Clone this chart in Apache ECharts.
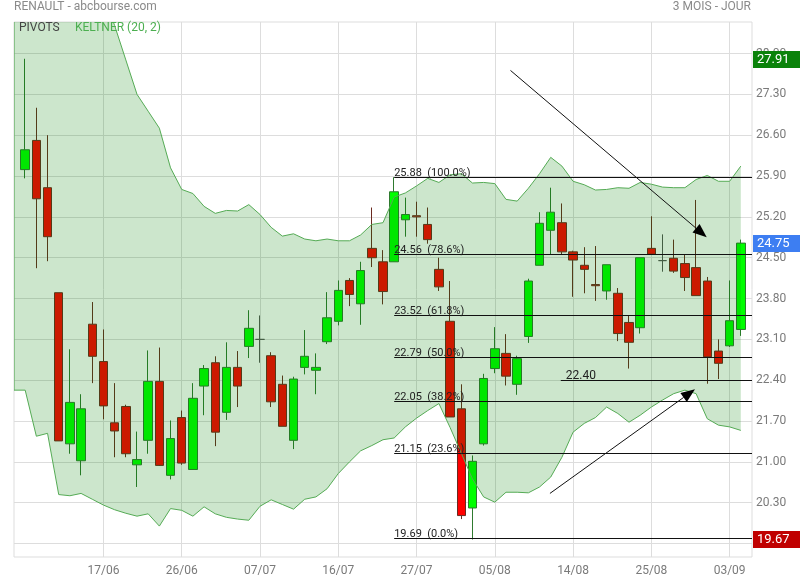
<!DOCTYPE html>
<html>
<head>
<meta charset="utf-8">
<script src="https://cdn.jsdelivr.net/npm/echarts@6/dist/echarts.min.js"></script>
<style>
html,body{margin:0;padding:0;background:#ffffff;}
#chart{width:800px;height:580px;}
</style>
</head>
<body>
<div id="chart"></div>
<script>
// ---- data ----
const dates = ['08/06','09/06','10/06','11/06','12/06','15/06','16/06','17/06','18/06','19/06',
  '22/06','23/06','24/06','25/06','26/06','29/06','30/06','01/07','02/07','03/07',
  '06/07','07/07','08/07','09/07','10/07','13/07','14/07','15/07','16/07','17/07',
  '20/07','21/07','22/07','23/07','24/07','27/07','28/07','29/07','30/07','31/07',
  '03/08','04/08','05/08','06/08','07/08','10/08','11/08','12/08','13/08','14/08',
  '17/08','18/08','19/08','20/08','21/08','24/08','25/08','26/08','27/08','28/08',
  '31/08','01/09','02/09','03/09','04/09'];
const opens = [26.01,26.51,25.70,23.90,21.31,21.02,23.36,22.72,21.67,21.95,
  20.95,21.37,22.38,20.77,21.76,20.87,22.30,22.70,21.85,22.62,
  22.98,23.10,22.82,22.33,21.37,22.62,22.57,23.06,23.41,24.11,
  23.71,24.66,24.43,24.43,25.15,25.22,25.07,24.30,23.41,21.91,
  20.21,21.31,22.60,22.86,22.33,23.15,24.37,24.97,25.10,24.60,
  24.37,24.04,23.93,23.89,23.39,23.30,24.66,24.45,24.49,24.40,
  24.33,24.10,22.90,22.99,23.27];
const closes = [26.35,25.51,24.86,21.36,22.02,21.91,22.81,21.96,21.53,21.14,
  21.04,22.38,20.94,21.40,20.98,22.09,22.60,21.51,22.62,22.30,
  23.29,23.10,22.03,21.61,22.42,22.81,22.62,23.47,23.94,23.87,
  24.28,24.50,23.92,25.63,25.24,25.20,24.81,24.00,21.77,20.08,
  21.01,22.43,22.94,22.47,22.77,24.10,25.09,25.28,24.60,24.46,
  24.30,24.02,24.38,23.20,23.05,24.50,24.56,24.45,24.27,24.16,
  23.85,22.80,22.69,23.42,24.75];
const lows = [25.86,24.32,24.44,21.36,21.14,20.77,22.35,21.73,21.08,21.08,
  20.57,21.14,20.93,20.70,20.95,20.87,21.80,21.27,21.72,21.94,
  22.78,22.70,21.94,21.61,21.22,22.50,22.16,23.02,23.34,23.67,
  23.35,24.34,23.70,24.43,24.86,24.86,24.74,23.93,21.77,20.02,
  19.67,21.28,22.52,22.31,22.15,23.04,24.37,24.56,24.56,23.83,
  23.89,23.76,23.78,23.07,22.60,23.20,24.56,24.26,24.24,23.93,
  23.85,22.34,22.42,22.97,23.16];
const highs = [27.91,27.07,26.60,23.90,22.93,22.16,23.74,23.27,22.35,21.98,
  21.52,22.91,22.96,21.71,21.88,22.35,22.66,22.81,23.05,22.90,
  23.60,23.51,22.88,22.48,22.46,23.26,22.86,23.91,24.11,24.15,
  24.43,25.36,24.63,25.88,25.53,25.46,25.36,24.50,24.10,22.33,
  21.11,22.51,23.31,23.19,22.82,24.14,25.28,25.70,25.43,24.62,
  24.68,24.70,24.38,23.98,23.51,24.50,25.21,24.90,24.81,24.56,
  25.49,24.17,23.10,24.11,24.81];
const keltnerUpper = [30.5,30.4,30.3,30.1,29.9,29.6,29.3,29.0,28.48,27.89,
  27.30,27.01,26.72,26.04,25.67,25.60,25.38,25.26,25.31,25.30,
  25.41,25.24,25.02,24.87,24.91,24.82,24.79,24.82,24.79,24.79,
  24.89,25.07,25.10,25.54,25.61,25.73,25.86,25.79,25.92,25.94,
  25.78,25.79,25.77,25.50,25.47,25.69,25.94,26.22,26.07,25.81,
  25.75,25.66,25.67,25.70,25.69,25.79,25.76,25.71,25.70,25.70,
  25.84,25.91,25.81,25.81,26.07];
const keltnerLower = [22.23,21.44,21.49,20.44,20.42,20.46,20.36,20.26,20.18,20.12,
  20.07,20.11,19.90,20.20,20.17,20.07,20.23,20.11,20.05,20.02,
  20.00,20.24,20.35,20.27,20.19,20.36,20.40,20.54,20.80,21.00,
  21.19,21.28,21.38,21.41,21.60,21.75,21.88,22.00,21.59,21.15,
  20.71,20.40,20.31,20.48,20.48,20.47,20.57,20.74,21.08,21.51,
  21.66,21.76,21.94,21.83,21.68,21.80,21.94,22.06,22.17,22.23,
  22.17,21.74,21.63,21.60,21.54];
const yTickValues = [19.60,20.30,21.00,21.70,22.40,23.10,23.80,24.50,25.20,25.90,26.60,27.30,28.00];
const xTickLabels = ['17/06','26/06','07/07','16/07','27/07','05/08','14/08','25/08','03/09'];
const fibLevels = [19.69,21.15,22.05,22.79,23.52,24.56,25.88];
const fibPercents = ['0.0%','23.6%','38.2%','50.0%','61.8%','78.6%','100.0%'];
const fibStartIndex = 33;
const supportLevel = 22.40;
const supportStartIndex = 47.9;
const arrowStarts = [[43.4,27.71],[46.93,20.46]];
const arrowEnds = [[60.95,24.85],[59.9,22.245]];
const priceTagValues = [27.91,24.75,19.67];
const yMin = 19.37, yMax = 28.54;

// ---- chart ----
const FONT = 'Roboto, sans-serif';
const tagColors = ['#0a820a','#3d7ef2','#c00000'];
const nLast = dates.length; // index of right padding slot
const categories = [''].concat(dates, ['']);
const candleData = dates.map((d,i)=>[i+1, opens[i], closes[i], lows[i], highs[i]]);
const bandX = [-1].concat(dates.map((d,i)=>i));
const bandUp = [keltnerUpper[0]].concat(keltnerUpper);
const bandLo = [keltnerLower[0]].concat(keltnerLower);
const isTick = (idx, value) => xTickLabels.indexOf(value) >= 0;
const crisp = v => Math.round(v) + 0.5;

function renderBand(params, api) {
  const up = bandX.map((x,k)=>api.coord([x, bandUp[k]]));
  const lo = bandX.map((x,k)=>api.coord([x, bandLo[k]]));
  const poly = up.concat(lo.slice().reverse());
  const outline = lo.slice().reverse().concat(up);
  const cs = params.coordSys;
  return {
    type:'group',
    clipPath:{type:'rect', shape:{x:cs.x, y:cs.y, width:cs.width, height:cs.height}},
    children:[
      {type:'polygon', shape:{points:poly}, style:{fill:'rgba(0,128,0,0.2)'}},
      {type:'polyline', shape:{points:outline}, style:{stroke:'#55ab55', lineWidth:1, fill:null}}
    ]
  };
}

function renderAnnotations(params, api) {
  const children = [];
  fibLevels.forEach((lv,k)=>{
    const a = api.coord([fibStartIndex, lv]);
    const b = api.coord([nLast, lv]);
    const y = crisp(a[1]);
    children.push({type:'line', shape:{x1:a[0], y1:y, x2:b[0], y2:y}, style:{stroke:'#111111', lineWidth:1}});
    children.push({type:'text', x:a[0], y:y+1, style:{text: lv.toFixed(2)+'  ('+fibPercents[k]+')', fill:'#222222', font:'11px '+FONT, align:'left', verticalAlign:'bottom'}});
  });
  const s = api.coord([supportStartIndex, supportLevel]);
  const e = api.coord([nLast, supportLevel]);
  const sy = crisp(s[1]);
  children.push({type:'line', shape:{x1:s[0], y1:sy, x2:e[0], y2:sy}, style:{stroke:'#111111', lineWidth:1}});
  children.push({type:'text', x:s[0]+5, y:sy+1, style:{text: supportLevel.toFixed(2), fill:'#222222', font:'12px '+FONT, align:'left', verticalAlign:'bottom'}});
  arrowStarts.forEach((st,k)=>{
    const p0 = api.coord(st), p1 = api.coord(arrowEnds[k]);
    const dx = p1[0]-p0[0], dy = p1[1]-p0[1];
    const len = Math.sqrt(dx*dx+dy*dy);
    const ux = dx/len, uy = dy/len, nx = -uy, ny = ux;
    const hl = 14, hw = 5.5;
    const bx = p1[0]-ux*hl, by = p1[1]-uy*hl;
    children.push({type:'line', shape:{x1:p0[0], y1:p0[1], x2:bx, y2:by}, style:{stroke:'#111111', lineWidth:1}});
    children.push({type:'polygon', shape:{points:[[p1[0],p1[1]],[bx+nx*hw,by+ny*hw],[bx-nx*hw,by-ny*hw]]}, style:{fill:'#000000'}});
  });
  return {type:'group', children};
}

function renderTags(params, api) {
  const cs = params.coordSys;
  const children = [];
  priceTagValues.forEach((v,k)=>{
    const y = api.coord([0, v])[1];
    children.push({type:'rect', shape:{x:cs.x+cs.width+1, y:Math.round(y)-8, width:48, height:17}, style:{fill:tagColors[k]}});
    children.push({type:'text', x:cs.x+cs.width+5, y:Math.round(y)+0.5, style:{text:v.toFixed(2), fill:'#ffffff', font:'13px '+FONT, align:'left', verticalAlign:'middle'}});
  });
  return {type:'group', children};
}

const chart = echarts.init(document.getElementById('chart'), null, {renderer:'canvas'});
chart.setOption({
  animation:false,
  backgroundColor:'#ffffff',
  textStyle:{fontFamily:FONT},
  title:[
    {text:'RENAULT - abcbourse.com', left:14, top:1, padding:0, textStyle:{color:'#8a8a8a', fontSize:12, fontWeight:'normal', fontFamily:FONT}},
    {text:'3 MOIS - JOUR', right:49, top:1, padding:0, textStyle:{color:'#8a8a8a', fontSize:12, fontWeight:'normal', fontFamily:FONT}},
    {text:'PIVOTS', left:19, top:22, padding:0, textStyle:{color:'#444444', fontSize:12, fontWeight:'normal', fontFamily:FONT}},
    {text:'KELTNER (20, 2)', left:75, top:22, padding:0, textStyle:{color:'#4caf50', fontSize:12, fontWeight:'normal', fontFamily:FONT}}
  ],
  grid:{left:14, right:48, top:22, bottom:23, show:true, borderColor:'#dddddd', borderWidth:1, backgroundColor:'transparent'},
  xAxis:[
    {type:'category', data:categories, boundaryGap:false,
     axisLine:{show:false}, axisTick:{show:false},
     axisLabel:{interval:isTick, color:'#7a7a7a', fontSize:12, fontFamily:FONT, margin:8},
     splitLine:{show:true, interval:isTick, lineStyle:{color:'#dddddd', width:1}}},
    {type:'value', min:-1, max:nLast, show:false, splitLine:{show:false}}
  ],
  yAxis:{type:'value', position:'right', min:yMin, max:yMax, scale:true,
    axisLine:{show:false},
    axisTick:{show:false, customValues:yTickValues},
    axisLabel:{customValues:yTickValues, formatter:v=>v.toFixed(2), color:'#7a7a7a', fontSize:12, fontFamily:FONT, margin:4},
    splitLine:{show:true, lineStyle:{color:'#dddddd', width:1}}},
  series:[
    {type:'candlestick', xAxisIndex:0, yAxisIndex:0, z:2, silent:true, barWidth:9,
     dimensions:['idx','open','close','lowest','highest'],
     encode:{x:'idx', y:['open','close','lowest','highest']},
     data:candleData,
     itemStyle:{color:'#00ff00', color0:'#ff0000', borderColor:'#2f7a2f', borderColor0:'#6a2a20', borderColorDoji:'#555555', borderWidth:1}},
    {type:'custom', xAxisIndex:1, yAxisIndex:0, z:3, silent:true, clip:true,
     data:[[0,22]], encode:{x:0,y:1}, renderItem:renderBand},
    {type:'custom', xAxisIndex:1, yAxisIndex:0, z:4, silent:true, clip:true,
     data:[[0,22]], encode:{x:0,y:1}, renderItem:renderAnnotations},
    {type:'custom', xAxisIndex:1, yAxisIndex:0, z:10, silent:true, clip:false,
     data:[[0,22]], encode:{x:0,y:1}, renderItem:renderTags}
  ]
});
</script>
</body>
</html>
